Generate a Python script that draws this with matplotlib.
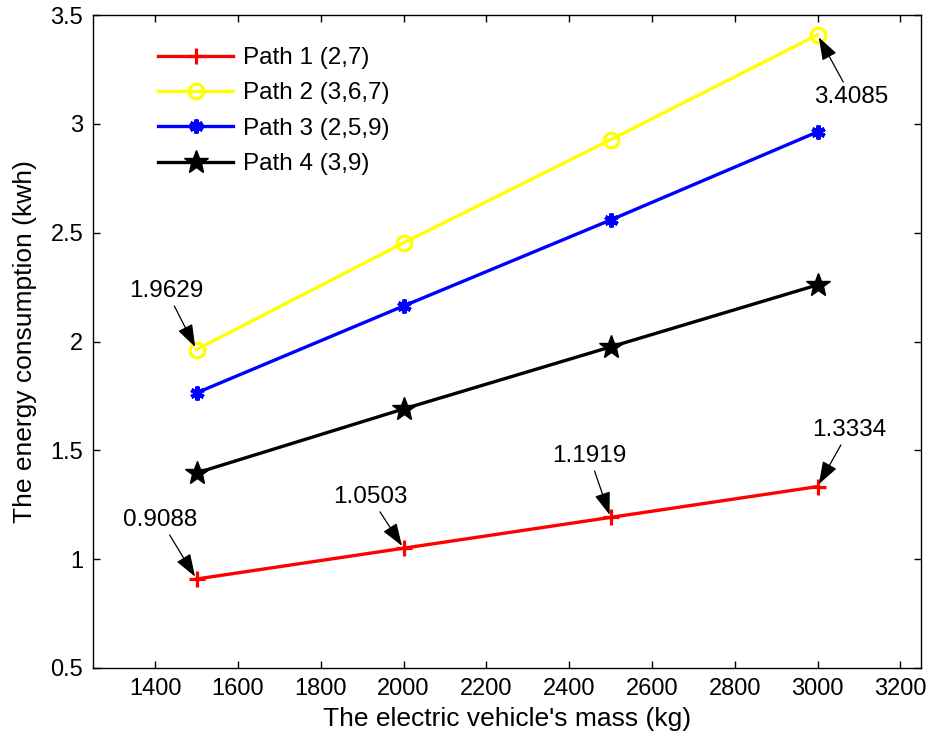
import matplotlib
matplotlib.use("Agg")
import matplotlib.pyplot as plt

plt.rcParams['font.family'] = ['Liberation Sans', 'DejaVu Sans']

mass = [1500, 2000, 2500, 3000]
path1 = [0.9088, 1.0503, 1.1919, 1.3334]
path2 = [1.9629, 2.453, 2.927, 3.4085]
path3 = [1.764, 2.163, 2.558, 2.963]
path4 = [1.396, 1.690, 1.975, 2.260]
labels = ['Path 1 (2,7)', 'Path 2 (3,6,7)', 'Path 3 (2,5,9)', 'Path 4 (3,9)']
xticks = [1400, 1600, 1800, 2000, 2200, 2400, 2600, 2800, 3000, 3200]
yticks = [0.5, 1, 1.5, 2, 2.5, 3, 3.5]

# annotations: (text, point_x, point_y, text_x, text_y)
ann_text = ['0.9088', '1.0503', '1.1919', '1.3334', '1.9629', '3.4085']
ann_px = [1500, 2000, 2500, 3000, 1500, 3000]
ann_py = [0.9088, 1.0503, 1.1919, 1.3334, 1.9629, 3.4085]
ann_tx = [1413, 1920, 2449, 3077, 1428, 3082]
ann_ty = [1.18, 1.286, 1.474, 1.594, 2.232, 3.123]

fig = plt.figure(figsize=(9.3, 7.42), dpi=100)
ax = fig.add_axes([93/930, 1-668/742, (921-93)/930, (668-15)/742])

lw = 2.4
ax.plot(mass, path1, color='red', lw=lw, marker='+', ms=12, mew=2.3, label=labels[0])
ax.plot(mass, path2, color='yellow', lw=lw, marker='o', ms=10.5, mew=2.3,
        mfc='none', label=labels[1])
ax.plot(mass, path3, color='blue', lw=lw, marker=(6, 2, 0), ms=10, mew=3, label=labels[2])
ax.plot(mass, path4, color='black', lw=lw, marker='*', ms=18, label=labels[3])

for t, px, py, tx, ty in zip(ann_text, ann_px, ann_py, ann_tx, ann_ty):
    ax.annotate(t, xy=(px, py), xytext=(tx, ty), ha='center', va='center',
                fontsize=17.5,
                arrowprops=dict(arrowstyle='-|>,head_length=0.8,head_width=0.28',
                                color='black', lw=0.9, shrinkA=1, shrinkB=2))

ax.set_xlim(1250, 3250)
ax.set_ylim(0.5, 3.5)
ax.set_xticks(xticks)
ax.set_yticks(yticks)
ax.set_yticklabels(['0.5', '1', '1.5', '2', '2.5', '3', '3.5'])
ax.tick_params(direction='in', top=True, right=True, length=5, width=1,
               labelsize=17, pad=7)
for s in ax.spines.values():
    s.set_linewidth(1.0)

ax.set_xlabel("The electric vehicle's mass (kg)", fontsize=19, labelpad=5)
ax.set_ylabel("The energy consumption (kwh)", fontsize=19, labelpad=10)

leg = ax.legend(loc='upper left', bbox_to_anchor=(0.0785, 0.951), frameon=False,
                fontsize=17.5, handlelength=3.1, labelspacing=0.55, handletextpad=0.4,
                borderaxespad=0, borderpad=0)

fig.savefig('out.png', dpi=100, facecolor='white')
